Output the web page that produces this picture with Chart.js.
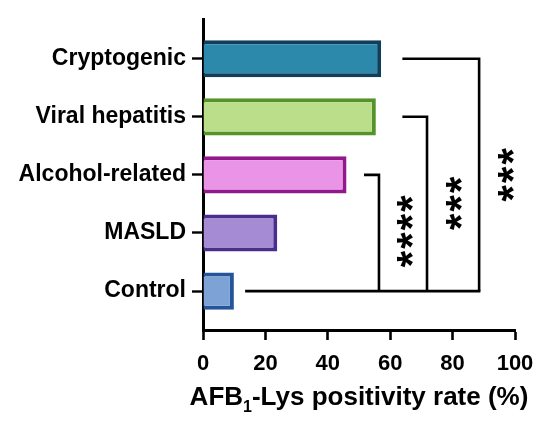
<!DOCTYPE html>
<html>
<head>
<meta charset="utf-8">
<script src="https://cdn.jsdelivr.net/npm/chart.js@4"></script>
<style>
  body { margin: 0; background: #fff; }
  #box { width: 550px; height: 428px; }
</style>
</head>
<body>
<div id="box"><canvas id="myChart" width="550" height="428"></canvas></div>
<script>
// data
const categories = ['Cryptogenic', 'Viral hepatitis', 'Alcohol-related', 'MASLD', 'Control'];
const positivity = [57.1, 55.4, 46.0, 23.8, 9.9];
const xTicks = [0, 20, 40, 60, 80, 100];

// significance brackets (x in % units, y in category index)
const bracketTop = [0, 1, 2];
const bracketStart = [63.9, 63.9, 51.6];
const bracketRight = [88.5, 71.8, 56.4];
const bracketBottom = 4;
const controlLineStart = 13.5;
const starLabels = ['***', '***', '****'];
const starX = [97.2, 80.6, 64.9];
const starY = [2.0, 2.49, 2.97];

const fillColors = ['rgb(44,137,172)', 'rgb(186,222,138)', 'rgb(234,148,232)', 'rgb(164,139,212)', 'rgb(125,163,214)'];
const borderColors = ['rgb(16,63,92)', 'rgb(84,148,42)', 'rgb(145,25,140)', 'rgb(75,45,140)', 'rgb(37,84,155)'];

const FONT = "'Liberation Sans', Arial, Helvetica, sans-serif";

// brackets, stars and the axis title with subscript
const extras = {
    id: 'extras',
    afterDraw(chart) {
        const ctx = chart.ctx;
        const xs = chart.scales.x;
        const ys = chart.scales.y;
        ctx.save();
        ctx.strokeStyle = '#000';
        ctx.lineWidth = 2.6;
        ctx.lineJoin = 'miter';
        ctx.lineCap = 'butt';

        const yb = ys.getPixelForValue(bracketBottom);
        // bottom line from control
        ctx.beginPath();
        ctx.moveTo(xs.getPixelForValue(controlLineStart), yb);
        ctx.lineTo(xs.getPixelForValue(Math.max(...bracketRight)) + 1.3, yb);
        ctx.stroke();

        for (let i = 0; i < bracketTop.length; i++) {
            const yt = ys.getPixelForValue(bracketTop[i]);
            const xr = xs.getPixelForValue(bracketRight[i]);
            ctx.beginPath();
            ctx.moveTo(xs.getPixelForValue(bracketStart[i]), yt);
            ctx.lineTo(xr, yt);
            ctx.lineTo(xr, yb);
            ctx.stroke();
        }

        // stars, rotated
        ctx.fillStyle = '#000';
        ctx.font = 'bold 42px ' + FONT;
        for (let i = 0; i < starLabels.length; i++) {
            const cx = xs.getPixelForValue(starX[i]);
            const cy = ys.getPixelForValue(starY[i]);
            const n = starLabels[i].length;
            const m = ctx.measureText('*');
            const mid = (m.actualBoundingBoxAscent - m.actualBoundingBoxDescent) / 2;
            ctx.save();
            ctx.translate(cx, cy);
            ctx.rotate(-Math.PI / 2);
            ctx.textAlign = 'center';
            ctx.textBaseline = 'alphabetic';
            for (let k = 0; k < n; k++) {
                const px = (k - (n - 1) / 2) * 18.5;
                ctx.fillText('*', px, mid);
            }
            ctx.restore();
        }

        // x axis title: AFB1-Lys positivity rate (%)
        const mainFont = 'bold 26px ' + FONT;
        const subFont = 'bold 16px ' + FONT;
        const p1 = 'AFB', p2 = '1', p3 = '-Lys positivity rate (%)';
        ctx.font = mainFont;
        const w1 = ctx.measureText(p1).width;
        const w3 = ctx.measureText(p3).width;
        ctx.font = subFont;
        const w2 = ctx.measureText(p2).width;
        const total = w1 + w2 + w3;
        let tx = (chart.chartArea.left + chart.chartArea.right) / 2 - total / 2;
        const baseY = 405;
        ctx.textAlign = 'left';
        ctx.textBaseline = 'alphabetic';
        ctx.font = mainFont;
        ctx.fillText(p1, tx, baseY);
        tx += w1;
        ctx.font = subFont;
        ctx.fillText(p2, tx, baseY + 7);
        tx += w2;
        ctx.font = mainFont;
        ctx.fillText(p3, tx, baseY);
        ctx.restore();
    }
};

const data = {
    datasets: [{
        data: positivity.map((v, i) => ({ x: v, y: i })),
        backgroundColor: fillColors,
        borderColor: borderColors,
        borderWidth: 4,
        borderSkipped: 'start',
        categoryPercentage: 1,
        barPercentage: 0.64,
    }]
};

const config = {
    type: 'bar',
    data: data,
    options: {
        indexAxis: 'y',
        responsive: false,
        animation: false,
        devicePixelRatio: 1,
        layout: { padding: { top: 16, right: 35, left: 0, bottom: 0 } },
        plugins: {
            legend: { display: false },
            tooltip: { enabled: false },
            title: { display: false }
        },
        scales: {
            x: {
                type: 'linear',
                min: 0,
                max: 100,
                afterBuildTicks: (scale) => { scale.ticks = xTicks.map(v => ({ value: v })); },
                afterFit: (scale) => { scale.height = 98; },
                grid: { drawOnChartArea: false, drawTicks: true, tickLength: 10, tickWidth: 2.6, tickColor: '#000' },
                border: { display: true, color: '#000', width: 3 },
                ticks: { color: '#000', padding: 11, maxRotation: 0, font: { family: FONT, size: 22, weight: 'bold' } }
            },
            y: {
                type: 'linear',
                reverse: true,
                offset: false,
                min: -0.67,
                max: 4.67,
                afterBuildTicks: (scale) => { scale.ticks = categories.map((c, i) => ({ value: i })); },
                afterFit: (scale) => { scale.width = 203; },
                grid: { offset: false, drawOnChartArea: false, drawTicks: true, tickLength: 11, tickWidth: 2.4, tickColor: '#000' },
                border: { display: true, color: '#000', width: 3 },
                ticks: {
                    color: '#000',
                    padding: 6,
                    autoSkip: false,
                    font: { family: FONT, size: 23, weight: 'bold' },
                    callback: (v) => categories[v]
                }
            }
        }
    },
    plugins: [extras]
};

const chart = new Chart(document.getElementById('myChart'), config);
</script>
</body>
</html>
